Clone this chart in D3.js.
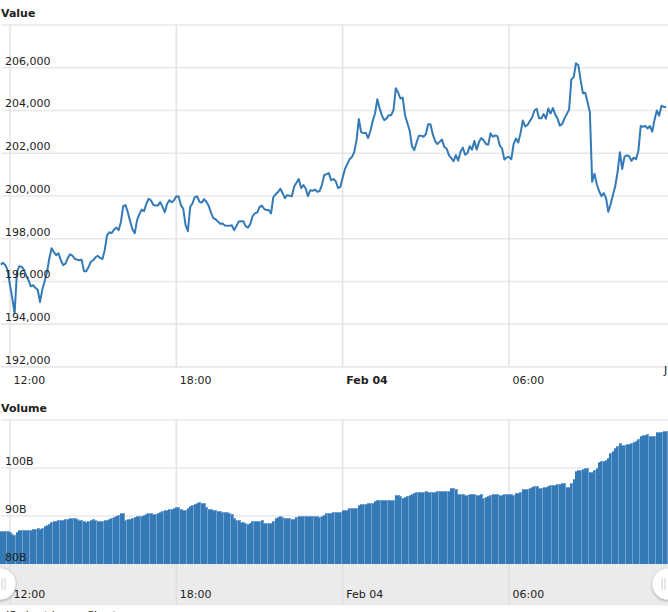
<!DOCTYPE html>
<html>
<head>
<meta charset="utf-8">
<script src="https://cdn.jsdelivr.net/npm/d3@7"></script>
<style>
html,body{margin:0;padding:0;background:#fff;overflow:hidden}
svg{display:block}
text{font-family:"DejaVu Sans",Verdana,sans-serif;font-size:11px;fill:#222}
</style>
</head>
<body>
<svg id="c" width="668" height="612"></svg>
<script>
const priceValues = [196790,196870,196760,196520,195820,195210,194510,196430,196710,196690,196550,196270,196060,195770,195820,195700,195610,195040,195630,196010,196430,197070,197550,197370,197230,197320,196990,196760,196830,197090,197270,197210,197060,197020,196990,197020,196480,196480,196670,196920,196990,197130,197200,197100,197050,197460,198160,198300,198260,198420,198520,198400,198770,199520,199570,199240,198820,198440,198260,198870,199150,199360,199290,199620,199870,199800,199590,199550,199550,199710,199500,199240,199620,199800,199710,199800,199990,199970,199570,199400,198630,198350,199480,199660,199940,199980,199730,199690,199850,199730,199540,199220,198960,198910,198800,198700,198710,198620,198600,198600,198630,198400,198590,198800,198820,198820,198590,198520,198680,199050,199190,199220,199480,199550,199400,199340,199340,199180,199940,200080,200180,200340,200130,199900,200040,200010,199990,200440,200620,200790,200370,200510,200350,199990,200270,200240,200300,200200,200230,200510,200970,201020,201070,200740,200790,200690,200370,200430,200860,201260,201490,201720,201820,202050,202610,203600,202990,202940,202960,202710,203040,203500,203860,204520,204100,203760,203550,203630,203780,203780,204020,205040,204840,204560,204600,203780,203410,203060,202330,202150,202500,202820,202820,202770,202890,203360,203360,202890,202570,202430,202530,202640,202290,202220,201910,201770,201630,201910,201650,202070,202260,201930,202000,202330,202170,202570,202170,202520,202710,202610,202430,202400,202930,202770,202830,202800,202360,202220,201700,201800,201830,201720,202430,202690,202500,202940,203530,203250,203320,203500,203670,204000,204080,203640,203640,203830,203620,204090,203860,204110,203810,203620,203290,203360,203620,203830,204040,205450,205560,206210,206130,205420,204810,204830,204390,203930,200660,201040,200550,200230,199990,200130,199900,199260,199620,200040,200460,201120,202050,201260,201840,201900,201860,201640,201790,201720,202100,203270,203240,203270,203160,203270,203010,203570,204000,203760,204220,204170,204150];
const volumeValues = [86.9,86.9,86.9,86.9,86.7,86.3,86.0,86.6,87.0,87.0,87.0,87.0,87.0,87.1,87.2,87.3,87.5,87.2,87.4,87.9,88.1,88.3,88.8,88.9,89.0,89.1,89.1,89.2,89.3,89.4,89.5,89.5,89.5,89.4,89.2,89.1,88.9,88.8,89.0,89.1,89.3,89.2,89.0,89.0,89.0,89.1,89.2,89.3,89.6,89.8,90.0,90.2,90.6,90.7,89.1,89.3,89.4,89.6,89.8,89.9,90.0,90.1,90.2,90.4,90.7,90.6,90.5,90.5,90.7,90.9,91.0,91.2,91.3,91.4,91.5,91.7,91.8,91.8,91.5,91.3,91.3,91.7,92.1,92.2,92.4,92.7,92.9,92.8,92.7,91.9,91.5,91.4,91.2,91.2,91.1,91.0,90.9,90.9,90.8,90.6,90.4,89.6,89.2,89.2,88.8,88.7,88.5,88.4,88.6,88.9,88.9,88.9,89.0,89.1,88.5,88.5,88.5,88.5,89.0,89.5,89.8,89.9,89.7,89.6,89.6,89.5,89.3,89.4,89.8,89.9,89.9,89.9,89.9,89.9,90.1,90.1,90.1,90.0,89.7,90.0,90.3,90.6,90.7,90.7,90.8,90.8,90.8,90.9,91.3,91.3,91.3,91.7,91.7,91.7,91.7,92.3,92.5,92.6,92.6,92.7,92.8,92.8,93.1,93.4,93.4,93.4,93.4,93.4,93.4,93.4,93.4,94.3,94.3,94.2,93.8,94.0,94.1,94.4,94.6,94.8,94.9,95.0,95.1,95.1,95.2,95.1,95.0,94.9,95.0,95.2,95.3,95.3,95.3,95.3,95.3,95.8,95.8,95.7,94.6,94.5,94.5,94.4,94.4,94.6,94.6,94.6,94.4,94.4,94.5,93.8,94.0,94.1,94.3,94.5,94.6,94.5,94.4,94.4,94.5,94.5,94.6,94.6,94.3,94.7,94.8,94.9,95.6,95.6,95.7,95.8,96.0,96.2,96.3,95.9,95.9,96.0,96.1,96.2,96.4,96.5,96.5,96.6,96.7,96.8,96.9,96.0,96.0,96.9,97.7,99.4,99.5,99.6,99.8,100.0,100.0,99.1,99.1,99.6,99.9,101.2,101.4,101.5,101.7,102.1,103.2,103.6,104.1,104.6,105.3,104.7,104.8,105.0,105.1,105.3,105.4,105.6,106.1,106.7,106.8,106.9,107.0,106.7,106.6,106.7,107.4,107.5,107.6,107.7,107.8];
const priceTicks = [192000,194000,196000,198000,200000,202000,204000,206000];
const volumeTicks = [80,90,100];
const timeTicks = ["2018-02-03T12:00Z","2018-02-03T18:00Z","2018-02-04T00:00Z","2018-02-04T06:00Z"];
const timeLabels = ["12:00","18:00","Feb 04","06:00"];
const startTime = "2018-02-03T11:40Z";
const stepMinutes = 5;
const titles = ["Value","Volume"];

const BLUE = "#337ab7", GRID = "#e8e8e8";
const svg = d3.select("#c");
const W = 668;

const x = d3.scaleUtc()
  .domain([new Date(timeTicks[0]), new Date(timeTicks[3])])
  .range([10, 509]);
const t0 = +new Date(startTime);
const times = priceValues.map((_, i) => new Date(t0 + i * stepMinutes * 60000));

const yP = d3.scaleLinear().domain([192000, 208000]).range([366.9, 25]);
const yV = d3.scaleLinear().domain([80, 110]).range([564, 420]);

// navigator band behind the volume axis
svg.append("rect").attr("x", 0).attr("y", yV(80)).attr("width", W).attr("height", 41.5).attr("fill", "#ebebeb");

function hGrid(y, vals) {
  svg.append("g").selectAll("line").data(vals).join("line")
    .attr("x1", 1).attr("x2", W).attr("y1", y).attr("y2", y)
    .attr("stroke", GRID).attr("stroke-width", 1.6);
}
hGrid(yP, priceTicks.concat([208000]));
hGrid(yV, volumeTicks.concat([110]));

function vGrid(y1, y2) {
  svg.append("g").selectAll("line").data(timeTicks).join("line")
    .attr("x1", d => x(new Date(d))).attr("x2", d => x(new Date(d)))
    .attr("y1", y1).attr("y2", y2)
    .attr("stroke", "#dcdcdc").attr("stroke-opacity", 0.75).attr("stroke-width", 1.6);
}
vGrid(25, 367);
vGrid(420, 605);

// price line
const line = d3.line().x((d, i) => x(times[i])).y(d => yP(d));
svg.append("path").datum(priceValues)
  .attr("d", line).attr("fill", "none").attr("stroke", BLUE)
  .attr("stroke-width", 2).attr("stroke-linejoin", "round");

// volume bars: light outline below, solid body above
const barLeft = (i) => Math.round(x(times[i]) - 1.15);
const bars = svg.append("g").attr("shape-rendering", "crispEdges");
volumeValues.forEach((v, i) => {
  const top = Math.round(yV(v));
  bars.append("rect").attr("x", barLeft(i)).attr("y", top)
    .attr("width", 3).attr("height", yV(80) - top).attr("fill", "#6fa0cf");
  bars.append("rect").attr("x", barLeft(i)).attr("y", top + 1)
    .attr("width", 2).attr("height", yV(80) - top - 1).attr("fill", BLUE);
});

// value axes (labels sit over the gridline, at the inside left)
const leftLabels = (g, y, vals, fmt) => g.selectAll("text").data(vals).join("text")
  .attr("x", 5).attr("y", d => y(d) - 3).text(fmt);
leftLabels(svg.append("g"), yP, priceTicks, d3.format(","));
leftLabels(svg.append("g"), yV, volumeTicks, d => d + "B");

// time axes
function timeAxis(yPos, boldMid) {
  const g = svg.append("g").attr("transform", `translate(0,${yPos})`)
    .call(d3.axisBottom(x).tickValues(timeTicks.map(d => new Date(d)))
      .tickFormat((d, i) => timeLabels[i]).tickSize(0).tickPadding(0));
  g.select(".domain").remove();
  g.selectAll("text")
    .attr("text-anchor", "start").attr("dx", 3).attr("dy", 0).attr("y", 0)
    .style("font-family", '"DejaVu Sans",Verdana,sans-serif').style("font-size", "11px")
    .style("fill", "#222")
    .style("font-weight", (d, i) => boldMid && i === 2 ? "bold" : "normal");
  return g;
}
timeAxis(384, true);
timeAxis(598, false);
svg.append("text").attr("x", 664).attr("y", 374).text("J");

// navigator handles
const defs = svg.append("defs");
const f = defs.append("filter").attr("id", "sh").attr("x", "-50%").attr("y", "-50%").attr("width", "200%").attr("height", "200%");
f.append("feDropShadow").attr("dx", 0).attr("dy", 1).attr("stdDeviation", 1.5).attr("flood-color", "#000").attr("flood-opacity", 0.35);
[[0, 2, 5], [W, W - 3, W - 6]].forEach(([cx, a, b]) => {
  svg.append("circle").attr("cx", cx).attr("cy", 584).attr("r", 15.5).attr("fill", "#fff").attr("filter", "url(#sh)");
  [a, b].forEach(px => svg.append("line").attr("x1", px).attr("x2", px).attr("y1", 578).attr("y2", 590)
    .attr("stroke", "#ccc").attr("stroke-width", 1));
});

// titles
svg.append("text").attr("x", 1).attr("y", 17).style("font-weight", "bold").text(titles[0]);
svg.append("text").attr("x", 1).attr("y", 412).style("font-weight", "bold").text(titles[1]);

// credit cropped by the window edge
svg.append("text").attr("x", 6).attr("y", 618.5).text("JS chart by amCharts");
</script>
</body>
</html>
